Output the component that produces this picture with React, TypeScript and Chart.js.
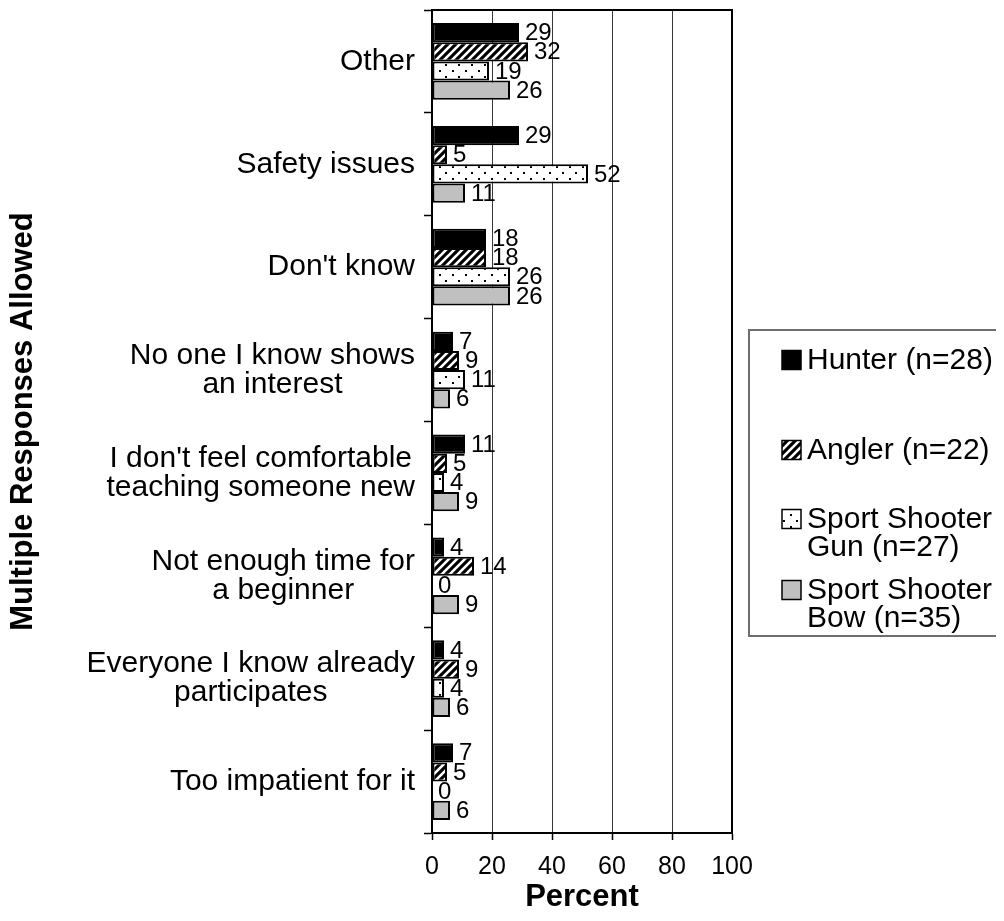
import React, { useEffect, useRef } from "react";
import { Chart, registerables } from "chart.js";

Chart.register(...registerables);

const FONT = "Arial, 'Liberation Sans', Helvetica, sans-serif";

// ---- data ----
const categories: string[][] = [
  ["Other"],
  ["Safety issues"],
  ["Don't know"],
  ["No one I know shows", "an interest"],
  ["I don't feel comfortable", "teaching someone new"],
  ["Not enough time for", "a beginner"],
  ["Everyone I know already", "participates"],
  ["Too impatient for it"],
];

const seriesLabels: string[][] = [
  ["Hunter (n=28)"],
  ["Angler (n=22)"],
  ["Sport Shooter", "Gun (n=27)"],
  ["Sport Shooter", "Bow (n=35)"],
];

const hunter = [29, 29, 18, 7, 11, 4, 4, 7];
const angler = [32, 5, 18, 9, 5, 14, 9, 5];
const shooterGun = [19, 52, 26, 11, 4, 0, 4, 0];
const shooterBow = [26, 11, 26, 6, 9, 9, 6, 6];

const xMin = 0;
const xMax = 100;
const xStep = 20;

const xTitle = "Percent";
const yTitle = "Multiple Responses Allowed";

// ---- patterns ----
function makeHatch(): CanvasPattern | string {
  const c = document.createElement("canvas");
  c.width = 8;
  c.height = 8;
  const g = c.getContext("2d");
  if (!g) return "#000";
  g.fillStyle = "#000";
  g.fillRect(0, 0, 8, 8);
  g.strokeStyle = "#fff";
  g.lineWidth = 2.6;
  g.beginPath();
  g.moveTo(-2, 10);
  g.lineTo(10, -2);
  g.moveTo(-6, 6);
  g.lineTo(6, -6);
  g.moveTo(2, 14);
  g.lineTo(14, 2);
  g.stroke();
  return g.createPattern(c, "repeat") || "#000";
}

function makeDots(): CanvasPattern | string {
  const c = document.createElement("canvas");
  c.width = 13;
  c.height = 12;
  const g = c.getContext("2d");
  if (!g) return "#fff";
  g.fillStyle = "#fff";
  g.fillRect(0, 0, 13, 12);
  g.fillStyle = "#000";
  g.fillRect(2, 2, 2, 2);
  g.fillRect(8, 8, 2, 2);
  return g.createPattern(c, "repeat") || "#fff";
}

// ---- plugins ----
const framePlugin = {
  id: "frame",
  beforeDatasetsDraw(chart: any) {
    const { ctx, chartArea } = chart;
    ctx.save();
    ctx.strokeStyle = "#000";
    ctx.lineWidth = 2;
    ctx.beginPath();
    ctx.moveTo(chartArea.left, chartArea.top);
    ctx.lineTo(chartArea.right, chartArea.top);
    ctx.lineTo(chartArea.right, chartArea.bottom);
    ctx.stroke();
    ctx.restore();
  },
};

const valueLabelPlugin = {
  id: "valueLabels",
  afterDatasetsDraw(chart: any) {
    const { ctx } = chart;
    ctx.save();
    ctx.font = `24px ${FONT}`;
    ctx.fillStyle = "#000";
    ctx.textAlign = "left";
    ctx.textBaseline = "middle";
    chart.data.datasets.forEach((ds: any, di: number) => {
      const meta = chart.getDatasetMeta(di);
      meta.data.forEach((bar: any, i: number) => {
        const v = ds.data[i];
        ctx.fillText(String(v), bar.x + 6, bar.y + 1);
      });
    });
    ctx.restore();
  },
};

const categoryLabelPlugin = {
  id: "categoryLabels",
  afterDraw(chart: any) {
    const { ctx } = chart;
    const yScale = chart.scales.y;
    ctx.save();
    ctx.font = `30px ${FONT}`;
    ctx.fillStyle = "#000";
    ctx.textAlign = "center";
    ctx.textBaseline = "middle";
    const right = yScale.right - 17;
    const lh = 29;
    categories.forEach((lines, i) => {
      const cy = yScale.getPixelForTick(i);
      const widest = Math.max(...lines.map((l) => ctx.measureText(l).width));
      const cx = right - widest / 2;
      lines.forEach((l, j) => {
        ctx.fillText(l, cx, cy + (j - (lines.length - 1) / 2) * lh);
      });
    });
    ctx.restore();
  },
};

const legendPlugin = {
  id: "boxLegend",
  afterDraw(chart: any) {
    const { ctx, chartArea } = chart;
    const boxLeft = chartArea.right + 17;
    const boxTop = chartArea.top + 320;
    const boxBottom = chartArea.top + 626;
    const boxRight = chart.width + 20;
    ctx.save();
    ctx.fillStyle = "#fff";
    ctx.fillRect(boxLeft, boxTop, boxRight - boxLeft, boxBottom - boxTop);
    ctx.strokeStyle = "#6e6e6e";
    ctx.lineWidth = 2;
    ctx.strokeRect(boxLeft, boxTop, boxRight - boxLeft, boxBottom - boxTop);

    const itemOffsets = [30, 120, 189, 260];
    const lh = 28;
    const markerSize = 19;
    ctx.font = `30px ${FONT}`;
    ctx.textAlign = "left";
    ctx.textBaseline = "middle";
    chart.data.datasets.forEach((ds: any, di: number) => {
      const cy = boxTop + itemOffsets[di];
      const mx = boxLeft + 33;
      ctx.fillStyle = ds.backgroundColor;
      ctx.fillRect(mx, cy - markerSize / 2, markerSize, markerSize);
      ctx.strokeStyle = "#000";
      ctx.lineWidth = 1.5;
      ctx.strokeRect(mx, cy - markerSize / 2, markerSize, markerSize);
      ctx.fillStyle = "#000";
      const lines: string[] = seriesLabels[di];
      lines.forEach((l, j) => {
        ctx.fillText(l, boxLeft + 58, cy + j * lh + 1);
      });
    });
    ctx.restore();
  },
};

export default function App() {
  const ref = useRef<HTMLCanvasElement | null>(null);

  useEffect(() => {
    if (!ref.current) return;
    Chart.defaults.font.family = FONT;
    const hatch = makeHatch();
    const dots = makeDots();
    const common = {
      borderColor: "#000",
      borderWidth: 2,
      borderSkipped: false,
      categoryPercentage: 0.745,
      barPercentage: 1.0,
    };
    const chart = new Chart(ref.current, {
      type: "bar",
      data: {
        labels: categories.map((c) => c.join(" ")),
        datasets: [
          { label: seriesLabels[0].join(" "), data: hunter, backgroundColor: "#000", ...common },
          { label: seriesLabels[1].join(" "), data: angler, backgroundColor: hatch, ...common },
          { label: seriesLabels[2].join(" "), data: shooterGun, backgroundColor: dots, ...common },
          { label: seriesLabels[3].join(" "), data: shooterBow, backgroundColor: "#c0c0c0", ...common },
        ] as any,
      },
      options: {
        indexAxis: "y",
        animation: false,
        responsive: false,
        devicePixelRatio: 1,
        layout: { padding: { top: 2, right: 264, left: 0, bottom: 0 } },
        plugins: {
          legend: { display: false },
          tooltip: { enabled: false },
          title: { display: false },
        },
        scales: {
          x: {
            type: "linear",
            min: xMin,
            max: xMax,
            ticks: {
              stepSize: xStep,
              color: "#000",
              padding: 12,
              font: { size: 25, family: FONT },
            },
            grid: {
              color: "#3a3a3a",
              lineWidth: 1,
              drawTicks: true,
              tickLength: 7,
              tickColor: "#000",
              tickWidth: 1.5,
            },
            border: { display: true, color: "#000", width: 2 },
            title: {
              display: true,
              text: xTitle,
              color: "#000",
              font: { size: 31, weight: "bold", family: FONT, lineHeight: 1 },
              padding: { top: 0, bottom: 0 },
            },
            afterFit(scale: any) {
              scale.height = 80;
            },
          },
          y: {
            type: "category",
            offset: true,
            ticks: { display: false },
            grid: {
              offset: true,
              drawOnChartArea: false,
              drawTicks: true,
              tickLength: 8,
              tickColor: "#000",
              tickWidth: 1.5,
            },
            border: { display: true, color: "#000", width: 2 },
            title: {
              display: true,
              text: yTitle,
              color: "#000",
              font: { size: 31, weight: "bold", family: FONT, lineHeight: 1 },
              padding: { top: 0, bottom: 0 },
            },
            afterFit(scale: any) {
              scale.width = 424;
            },
          },
        },
      } as any,
      plugins: [framePlugin, valueLabelPlugin, categoryLabelPlugin, legendPlugin],
    });
    return () => chart.destroy();
  }, []);

  return (
    <div style={{ width: 988, height: 905 }}>
      <canvas ref={ref} width={988} height={905} style={{ display: "block" }} />
    </div>
  );
}
